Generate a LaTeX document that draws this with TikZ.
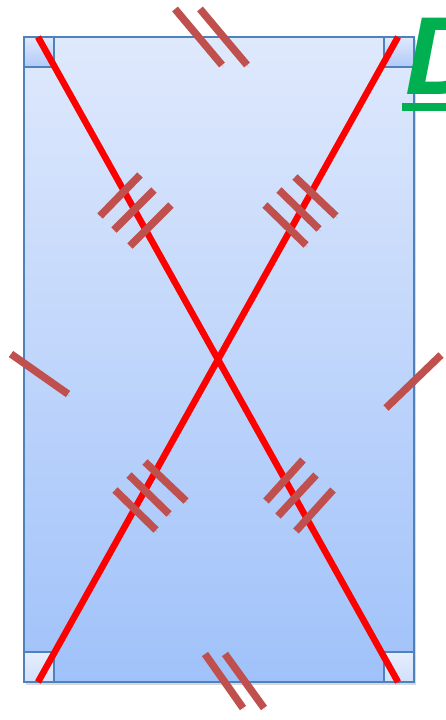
\documentclass[tikz,border=0pt]{standalone}
\usepackage{fontspec}
\setsansfont{Liberation Sans}
\usepackage{xcolor}
\usetikzlibrary{shadows}
\definecolor{edgeblue}{RGB}{79,129,189}
\definecolor{bgtop}{RGB}{223,233,252}
\definecolor{bgbot}{RGB}{160,194,250}
\definecolor{cornerlo}{RGB}{176,202,248}
\definecolor{cornerhi}{RGB}{230,238,253}
\definecolor{tickred}{RGB}{192,80,77}
\definecolor{lblgreen}{RGB}{0,176,80}
\tikzset{
  frame/.style={draw=edgeblue, line width=2pt, top color=bgtop, bottom color=bgbot,
                drop shadow={shadow xshift=2pt, shadow yshift=-3pt, opacity=0.3}},
  cornerbox/.style={draw=edgeblue, line width=2pt},
  topcorner/.style={cornerbox, top color=bgtop, bottom color=cornerlo},
  botcorner/.style={cornerbox, top color=cornerhi, bottom color=bgtop!70!cornerlo},
  softshade/.style={preaction={draw=black, opacity=0.18,
                    transform canvas={shift={(1.5pt,-2pt)}}}},
  diag/.style={draw=red, line width=6.5pt, softshade},
  tickmark/.style={draw=tickred, line width=7.5pt, softshade},
}

\begin{document}
\begin{tikzpicture}[x=1pt, y=-1pt]
  \useasboundingbox (0,0) rectangle (446,720);
  \coordinate (tl) at (24,37);
  \coordinate (tr) at (414,37);
  \coordinate (bl) at (24,682);
  \coordinate (br) at (414,682);
  \coordinate (dtl) at (38,37);
  \coordinate (dtr) at (398,37);
  \coordinate (dbl) at (38,682);
  \coordinate (dbr) at (398,682);

  \path[frame] (tl) rectangle (br);
  \path[topcorner] (tl) rectangle ++(30,30);
  \path[topcorner] (tr) rectangle ++(-30,30);
  \path[botcorner] (bl) rectangle ++(30,-30);
  \path[botcorner] (br) rectangle ++(-30,-30);

  \draw[diag] (dtl) -- (dbr);
  \draw[diag] (dtr) -- (dbl);

  % sides
  \draw[tickmark] (175,9) -- (222,65);
  \draw[tickmark] (200,9) -- (247,65);
  \draw[tickmark] (205,654) -- (243,708);
  \draw[tickmark] (225,654) -- (264,708);
  \draw[tickmark] (11,354) -- (68,394);
  \draw[tickmark] (386,408) -- (441,355);
  % half diagonals
  \draw[tickmark] (100,216) -- (140,175);
  \draw[tickmark] (114,230) -- (154,190);
  \draw[tickmark] (130,246) -- (171,205);
  \draw[tickmark] (265,205) -- (306,245);
  \draw[tickmark] (279,190) -- (319,229);
  \draw[tickmark] (295,177) -- (336,216);
  \draw[tickmark] (115,490) -- (156,530);
  \draw[tickmark] (129,475) -- (169,514);
  \draw[tickmark] (145,462) -- (186,501);
  \draw[tickmark] (303,460) -- (266,501);
  \draw[tickmark] (316,475) -- (278,516);
  \draw[tickmark] (333,490) -- (296,531);

  \node[anchor=base west, inner sep=0pt, text=lblgreen,
        font=\sffamily\bfseries\itshape\fontsize{111}{111}\selectfont] (lbl) at (405,94) {D};
  \draw[lblgreen, line width=8pt] (402,107) -- (446,107);
\end{tikzpicture}
\end{document}
